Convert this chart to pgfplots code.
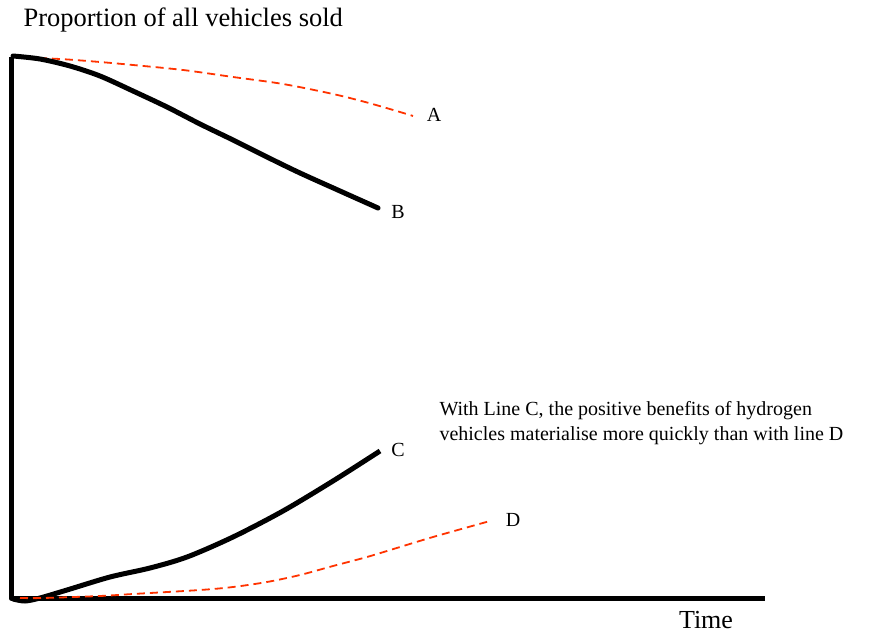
\documentclass[border=0pt]{standalone}
\usepackage{pgfplots}
\pgfplotsset{compat=1.18}
\usepackage{fontspec}
\setmainfont{Liberation Serif}
\definecolor{dashred}{RGB}{255,51,0}
\begin{document}
\begin{tikzpicture}
\begin{axis}[
  width=875pt, height=633pt, scale only axis,
  xmin=0, xmax=875, ymin=0, ymax=633,
  hide axis, clip=false,
]
% axes (pixel coordinates, y = 633 - pixel row)
\addplot[black, line width=5pt, line join=round] coordinates {(11,576) (11,35) (765,35)};
% A
\addplot[dashred, line width=1.8pt, dash pattern=on 8pt off 5pt, smooth] coordinates {
(13,576) (60,574) (100,571) (133,568) (183,563) (233,556) (283,549) (333,539) (367,530.5) (400,521) (413,517)};
% B
\addplot[black, line width=5pt, smooth, line cap=round] coordinates {
(13,577) (40,574) (70,567) (100,557) (133,542) (167,526) (200,509) (233,493) (267,476) (300,460) (340,442) (378,425)};
% C
\addplot[black, line width=5pt, smooth] coordinates {
(13,34) (25,32) (40,35) (67,43) (110,56) (150,65) (187,76) (233,96) (283,122) (333,152) (380,182)};
% D
\addplot[dashred, line width=1.8pt, dash pattern=on 8pt off 5pt, smooth] coordinates {
(20,35) (43,35) (100,37) (133,39) (200,43) (233,46) (267,51) (300,58) (333,67) (367,76) (400,86) (433,96) (490,112)};
\path (rel axis cs:0,0) rectangle (rel axis cs:1,1);
\node[anchor=west, font=\fontsize{26.5}{30}\selectfont] at (axis cs:20,613) {Proportion of all vehicles sold};
\node[font=\fontsize{20}{24}\selectfont] at (axis cs:434,518) {A};
\node[font=\fontsize{20}{24}\selectfont] at (axis cs:398,421) {B};
\node[font=\fontsize{20}{24}\selectfont] at (axis cs:398,183) {C};
\node[font=\fontsize{20}{24}\selectfont] at (axis cs:513,113) {D};
\node[anchor=west, align=left, font=\fontsize{20}{25}\selectfont] at (axis cs:436,210) {With Line C, the positive benefits of hydrogen\\vehicles materialise more quickly than with line D};
\node[anchor=base, inner sep=0pt, font=\fontsize{26}{30}\selectfont] at (axis cs:706,5) {Time};
\end{axis}
\end{tikzpicture}
\end{document}
